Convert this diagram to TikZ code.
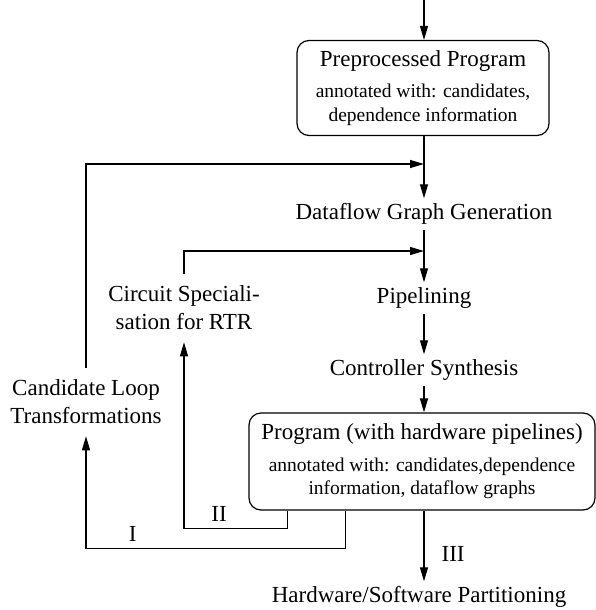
\documentclass[tikz,border=0pt]{standalone}
\usepackage{fontspec}
\setmainfont{Liberation Serif}
\usetikzlibrary{arrows.meta}
\newcommand{\bigtxt}{\fontsize{23}{28}\selectfont}
\newcommand{\smltxt}{\fontsize{19.5}{23.5}\selectfont}
\tikzstyle{flow}=[line width=1.2pt, -{Triangle[length=14pt,width=8pt]}]
\tikzstyle{stage}=[align=center, inner sep=5pt, text height=16pt, text depth=5pt, font=\bigtxt]
\tikzstyle{side}=[align=center, inner xsep=2pt, inner ysep=12pt, font=\bigtxt]
\tikzstyle{prog}=[draw, line width=1.2pt, rounded corners=12pt, align=center, inner sep=0pt, font=\smltxt]
\tikzstyle{tag}=[inner sep=1pt, font=\bigtxt]

\begin{document}
\begin{tikzpicture}[x=1pt, y=-1pt]
          \useasboundingbox (0,0) rectangle (596,610);
          \coordinate (top) at (424,0);
          \node[prog, minimum width=252, minimum height=95] (prep) at (423,88)
            {\bigtxt Preprocessed Program\\[8pt]
             annotated with: candidates,\\ dependence information};
          \node[stage] (dfg) at (424,214) {Dataflow Graph Generation};
          \node[stage] (pipe) at (424,298) {Pipelining};
          \node[stage] (ctrl) at (424,370) {Controller Synthesis};
          \node[prog, minimum width=346, minimum height=97] (prgm) at (422,461.5)
            {\bigtxt Program (with hardware pipelines)\\[8pt]
             annotated with: candidates,dependence\\
             information, dataflow graphs};
          \node[stage] (hwsw) at (419,597) {Hardware/Software Partitioning};
          \node[side] (circ) at (184,308) {Circuit Speciali-\\sation for RTR};
          \node[side] (cand) at (86,402) {Candidate Loop\\Transformations};
          \coordinate (mergeI) at (424,164);
          \coordinate (mergeII) at (424,251);

          % main flow
          \draw[flow] (top) -- (prep.north -| top);
          \draw[flow] (prep.south -| top) -- (dfg);
          \draw[flow] (dfg) -- (pipe);
          \draw[flow] (pipe) -- (ctrl);
          \draw[flow] (ctrl) -- (prgm.north -| ctrl);
          \draw[flow] (prgm.south -| ctrl) -- node[tag, pos=0.62, right=16pt] {III} (hwsw.north -| ctrl);

          % feedback loops
          \draw[flow] ([xshift=97]prgm.south west) -- ++(0,38)
            -| node[tag, pos=0.41, above=6pt] {I} (cand);
          \draw[flow] (cand) |- (mergeI);
          \draw[flow] ([xshift=39]prgm.south west) -- ++(0,18)
            -| node[tag, pos=0.33, above=6pt] {II} (circ);
          \draw[flow] (circ) |- (mergeII);
        \end{tikzpicture}
\end{document}
